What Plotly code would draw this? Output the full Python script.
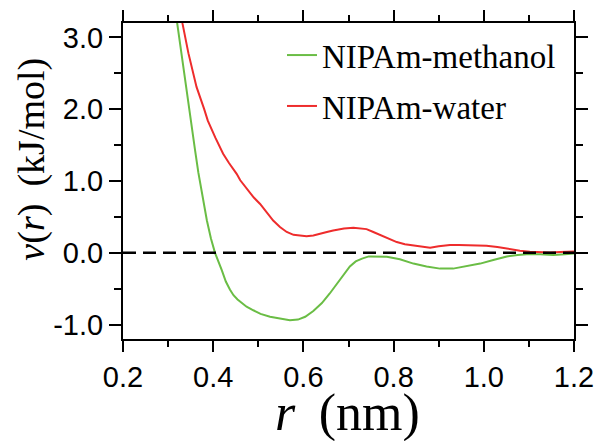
import plotly.graph_objects as go

# r (nm) and v(r) (kJ/mol)
r_methanol = [0.310, 0.320, 0.331, 0.341, 0.351, 0.360, 0.367, 0.376, 0.386, 0.395, 0.404,
              0.419, 0.428, 0.437, 0.445, 0.454, 0.463, 0.474, 0.489, 0.505, 0.526, 0.548,
              0.570, 0.588, 0.604, 0.622, 0.641, 0.658, 0.674, 0.690, 0.703, 0.716, 0.730,
              0.745, 0.762, 0.785, 0.814, 0.844, 0.873, 0.903, 0.932, 0.962, 0.992, 1.021,
              1.051, 1.075, 1.095, 1.125, 1.154, 1.180, 1.200]
v_methanol = [3.65, 3.19, 2.68, 2.22, 1.80, 1.42, 1.12, 0.78, 0.45, 0.20, 0.00,
              -0.24, -0.40, -0.51, -0.59, -0.65, -0.70, -0.75, -0.80, -0.85, -0.89, -0.92,
              -0.94, -0.93, -0.89, -0.81, -0.70, -0.57, -0.43, -0.29, -0.19, -0.12, -0.08,
              -0.05, -0.05, -0.055, -0.09, -0.15, -0.19, -0.22, -0.22, -0.18, -0.15, -0.10,
              -0.05, -0.03, -0.02, -0.02, -0.03, -0.02, -0.01]

r_water = [0.325, 0.332, 0.345, 0.363, 0.380, 0.388, 0.405, 0.422, 0.435, 0.445, 0.452,
           0.460, 0.474, 0.490, 0.504, 0.518, 0.533, 0.548, 0.563, 0.578, 0.592, 0.607,
           0.622, 0.637, 0.652, 0.666, 0.690, 0.711, 0.728, 0.740, 0.755, 0.770, 0.785,
           0.807, 0.825, 0.844, 0.862, 0.881, 0.900, 0.925, 0.945, 0.969, 0.990, 1.006,
           1.030, 1.058, 1.080, 1.102, 1.125, 1.147, 1.170, 1.200]
v_water = [3.60, 3.19, 2.78, 2.31, 2.00, 1.84, 1.60, 1.38, 1.25, 1.17, 1.10,
           1.01, 0.89, 0.77, 0.68, 0.57, 0.45, 0.36, 0.29, 0.25, 0.24, 0.23,
           0.24, 0.26, 0.29, 0.31, 0.34, 0.35, 0.34, 0.33, 0.29, 0.25, 0.21,
           0.15, 0.12, 0.10, 0.08, 0.07, 0.09, 0.11, 0.11, 0.11, 0.11, 0.10,
           0.08, 0.05, 0.03, 0.015, 0.008, 0.005, 0.01, 0.02]

series_names = ["NIPAm-methanol", "NIPAm-water"]
series_colors = ["#6abd45", "#ee2c2c"]

x_range = [0.2, 1.2]
y_range = [-1.2, 3.2]
x_tick_vals = [0.2, 0.4, 0.6, 0.8, 1.0, 1.2]
x_tick_labels = ["0.2", "0.4", "0.6", "0.8", "1.0", "1.2"]
y_tick_vals = [-1.0, 0.0, 1.0, 2.0, 3.0]
y_tick_labels = ["-1.0", "0.0", "1.0", "2.0", "3.0"]

fig = go.Figure()
fig.add_trace(go.Scatter(x=r_methanol, y=v_methanol, mode="lines", name=series_names[0],
                         line=dict(color=series_colors[0], width=2), legendgroup="a"))
fig.add_trace(go.Scatter(x=r_water, y=v_water, mode="lines", name=series_names[1],
                         line=dict(color=series_colors[1], width=2), legendgroup="b"))

fig.add_shape(type="line", xref="paper", x0=0, x1=1, yref="y", y0=0, y1=0,
              line=dict(color="black", width=2.5, dash="13px,7px"), layer="above")

axis_common = dict(
    showline=True, linecolor="black", linewidth=2,
    mirror="allticks", ticks="outside", tickcolor="black", tickwidth=1.5,
    showgrid=False, zeroline=False, tickmode="array",
    tickfont=dict(family="Liberation Sans, Arial, sans-serif", size=29, color="black"),
)

fig.update_xaxes(range=x_range, tickvals=x_tick_vals, ticktext=x_tick_labels, ticklen=11,
                 minor=dict(dtick=0.1, tick0=0.2, ticks="outside", ticklen=6,
                            tickcolor="black", tickwidth=1.5),
                 **axis_common)
fig.update_yaxes(range=y_range, tickvals=y_tick_vals, ticktext=y_tick_labels, ticklen=12,
                 minor=dict(dtick=0.5, tick0=0, ticks="outside", ticklen=7,
                            tickcolor="black", tickwidth=1.5),
                 **axis_common)

serif = "Liberation Serif, Times New Roman, serif"
fig.add_annotation(text="<i>r</i>&nbsp;\u2009(nm)", xref="paper", yref="paper",
                   x=0.497, y=0, xanchor="center", yanchor="top", yshift=-43,
                   showarrow=False, font=dict(family=serif, size=52, color="black"))
fig.add_annotation(text="<i>v</i>(<i>r</i>)&nbsp;\u2009(kJ/mol)", xref="paper", yref="paper",
                   x=-0.203, y=0.569, xanchor="center", yanchor="middle", textangle=-90,
                   showarrow=False, font=dict(family=serif, size=38, color="black"))

fig.update_layout(
    width=601, height=441,
    margin=dict(l=123, r=27, t=23, b=102, autoexpand=False),
    paper_bgcolor="white", plot_bgcolor="white",
    showlegend=True,
    legend=dict(x=0.3525, y=0.987, xanchor="left", yanchor="top",
                bgcolor="rgba(0,0,0,0)", borderwidth=0,
                font=dict(family=serif, size=33, color="black"),
                tracegroupgap=5),
)

fig.write_html("out.html", config={"displayModeBar": False},
               post_script="document.body.style.margin='0';document.body.style.overflow='hidden';")
